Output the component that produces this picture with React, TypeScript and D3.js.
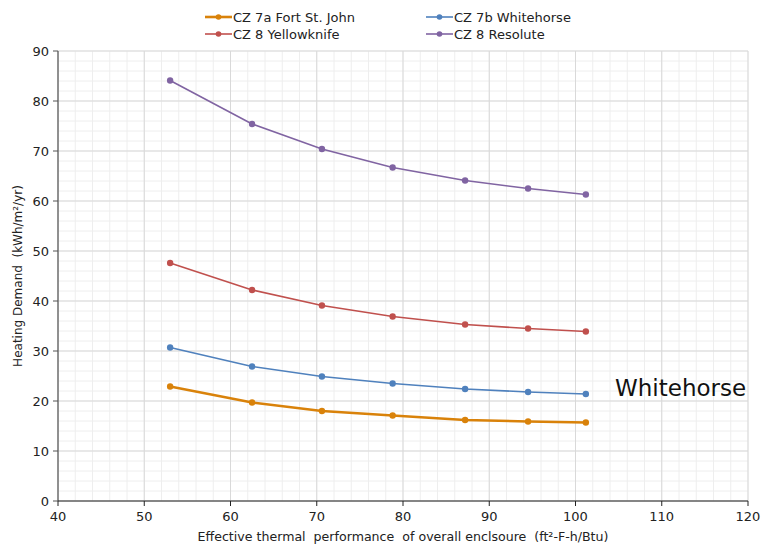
import React from "react";
import * as d3 from "d3";

const xValues = [53.0, 62.5, 70.6, 78.8, 87.2, 94.5, 101.2];
const seriesNames = ["CZ 7a Fort St. John", "CZ 7b Whitehorse", "CZ 8 Yellowknife", "CZ 8 Resolute"];
const fortStJohn = [22.9, 19.7, 18.0, 17.1, 16.2, 15.9, 15.7];
const whitehorse = [30.7, 26.9, 24.9, 23.5, 22.4, 21.8, 21.4];
const yellowknife = [47.6, 42.2, 39.1, 36.9, 35.3, 34.5, 33.9];
const resolute = [84.1, 75.4, 70.4, 66.7, 64.1, 62.5, 61.3];
const xTicks = [40, 50, 60, 70, 80, 90, 100, 110, 120];
const yTicks = [0, 10, 20, 30, 40, 50, 60, 70, 80, 90];

const colors = ["#d9820a", "#4f81bd", "#c0504d", "#8064a2"];
const widths = [2.6, 1.6, 1.6, 1.6];
const FONT = "'DejaVu Sans', Verdana, sans-serif";

export default function App() {
  const W = 762, H = 546;
  const left = 58, right = 748, top = 51, bottom = 501;
  const x = d3.scaleLinear().domain([40, 120]).range([left, right]);
  const y = d3.scaleLinear().domain([0, 90]).range([bottom, top]);
  const data = [fortStJohn, whitehorse, yellowknife, resolute];
  const line = d3.line<number>().x((_, i) => x(xValues[i])).y((d) => y(d));
  const xMinor = d3.range(40, 120.01, 2);
  const yMinor = d3.range(0, 90.01, 2);
  const legendPos = [
    { lx: 205, ly: 17 },
    { lx: 426, ly: 17 },
    { lx: 205, ly: 34 },
    { lx: 426, ly: 34 },
  ];
  return (
    <svg width={W} height={H} style={{ position: "absolute", left: 0, top: 0 }} fontFamily={FONT}>
      <rect width={W} height={H} fill="#fff" />
      {xMinor.map((v) => (
        <line key={"xm" + v} x1={x(v)} x2={x(v)} y1={top} y2={bottom} stroke="#eeeeee" strokeWidth={1} />
      ))}
      {yMinor.map((v) => (
        <line key={"ym" + v} x1={left} x2={right} y1={y(v)} y2={y(v)} stroke="#eeeeee" strokeWidth={1} />
      ))}
      {xTicks.map((v) => (
        <line key={"xg" + v} x1={x(v)} x2={x(v)} y1={top} y2={bottom} stroke="#d9d9d9" strokeWidth={1} />
      ))}
      {yTicks.map((v) => (
        <line key={"yg" + v} x1={left} x2={right} y1={y(v)} y2={y(v)} stroke="#d9d9d9" strokeWidth={1} />
      ))}
      <line x1={left} x2={left} y1={top} y2={bottom} stroke="#555" strokeWidth={1.2} />
      <line x1={left} x2={right} y1={bottom} y2={bottom} stroke="#222" strokeWidth={1.2} />
      {yTicks.map((v) => (
        <g key={"yt" + v}>
          <line x1={left - 5} x2={left} y1={y(v)} y2={y(v)} stroke="#555" />
          <text x={left - 9} y={y(v)} dy="0.35em" textAnchor="end" fontSize={13} fill="#222">{v}</text>
        </g>
      ))}
      {xTicks.map((v) => (
        <g key={"xt" + v}>
          <line x1={x(v)} x2={x(v)} y1={bottom} y2={bottom + 5} stroke="#222" />
          <text x={x(v)} y={bottom + 20} textAnchor="middle" fontSize={13} fill="#222">{v}</text>
        </g>
      ))}
      {data.map((s, si) => (
        <g key={"s" + si}>
          <path d={line(s) || ""} fill="none" stroke={colors[si]} strokeWidth={widths[si]} />
          {s.map((v, i) => (
            <circle key={i} cx={x(xValues[i])} cy={y(v)} r={3.2} fill={colors[si]} />
          ))}
        </g>
      ))}
      {seriesNames.map((n, i) => (
        <g key={"lg" + i}>
          <line x1={legendPos[i].lx} x2={legendPos[i].lx + 27} y1={legendPos[i].ly} y2={legendPos[i].ly} stroke={colors[i]} strokeWidth={widths[i]} />
          <circle cx={legendPos[i].lx + 13.5} cy={legendPos[i].ly} r={2.8} fill={colors[i]} />
          <text x={legendPos[i].lx + 28} y={legendPos[i].ly} dy="0.35em" fontSize={13} fill="#222">{n}</text>
        </g>
      ))}
      <text transform={`translate(22,${(top + bottom) / 2}) rotate(-90)`} textAnchor="middle" fontSize={12} fill="#222" style={{ whiteSpace: "pre" }}>
        {"Heating Demand  (kWh/m²/yr)"}
      </text>
      <text x={403} y={541} textAnchor="middle" fontSize={12.6} fill="#222" style={{ whiteSpace: "pre" }}>
        {"Effective thermal  performance  of overall enclsoure  (ft²-F-h/Btu)"}
      </text>
      <text x={615} y={396} fontSize={23} fill="#111">Whitehorse</text>
    </svg>
  );
}
